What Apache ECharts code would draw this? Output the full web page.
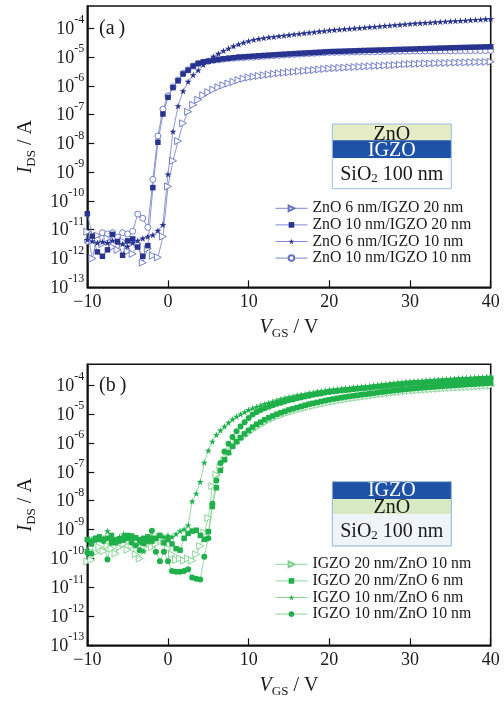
<!DOCTYPE html>
<html>
<head>
<meta charset="utf-8">
<script src="https://cdn.jsdelivr.net/npm/echarts@6.0.0/dist/echarts.min.js"></script>
<style>
html,body{margin:0;padding:0;background:#fff;}
#chart{width:504px;height:702px;}
</style>
</head>
<body>
<div id="chart"></div>
<script>
// Gate-voltage sweeps (V)
const vgsA = [-10, -9.375, -8.75, -8.125, -7.5, -6.875, -6.25, -5.625, -5, -4.375, -3.75, -3.125, -2.5, -1.875, -1.25, -0.625,
  0, 0.625, 1.25, 1.875, 2.5, 3.125, 3.75, 4.375, 5, 5.625, 6.25, 6.875, 7.5, 8.125, 8.75, 9.375,
  10, 10.625, 11.25, 11.875, 12.5, 13.125, 13.75, 14.375, 15, 15.625, 16.25, 16.875, 17.5, 18.125, 18.75, 19.375,
  20, 20.625, 21.25, 21.875, 22.5, 23.125, 23.75, 24.375, 25, 25.625, 26.25, 26.875, 27.5, 28.125, 28.75, 29.375,
  30, 30.625, 31.25, 31.875, 32.5, 33.125, 33.75, 34.375, 35, 35.625, 36.25, 36.875, 37.5, 38.125, 38.75, 39.375, 40];

const vgsB = [-10, -9.5, -9, -8.5, -8, -7.5, -7, -6.5, -6, -5.5, -5, -4.5, -4, -3.5, -3, -2.5, -2, -1.5, -1, -0.5,
  0, 0.5, 1, 1.5, 2, 2.5, 3, 3.5, 4, 4.5, 5, 5.5, 6, 6.5, 7, 7.5, 8, 8.5, 9, 9.5,
  10, 10.5, 11, 11.5, 12, 12.5, 13, 13.5, 14, 14.5, 15, 15.5, 16, 16.5, 17, 17.5, 18, 18.5, 19, 19.5,
  20, 20.5, 21, 21.5, 22, 22.5, 23, 23.5, 24, 24.5, 25, 25.5, 26, 26.5, 27, 27.5, 28, 28.5, 29, 29.5,
  30, 30.5, 31, 31.5, 32, 32.5, 33, 33.5, 34, 34.5, 35, 35.5, 36, 36.5, 37, 37.5, 38, 38.5, 39, 39.5, 40];

// (a) ZnO on IGZO: drain current I_DS (A)
const idsZnO6IGZO20 = [8.5e-12, 1.0e-12, 6.3e-12, 3.2e-12, 5.0e-12, 2.5e-12, 2.0e-12, 4.0e-12, 1.8e-12, 1.45e-12, 3.2e-12, 7.2e-13, 2.2e-12, 1.26e-12, 1.1e-12, 5.8e-12,
  3.2e-10, 2.5e-9, 1.2e-8, 5.0e-8, 1.26e-7, 2.2e-7, 3.3e-7, 4.7e-7, 6.0e-7, 7.4e-7, 8.9e-7, 1.05e-6, 1.2e-6, 1.38e-6, 1.58e-6, 1.78e-6,
  1.95e-6, 2.08e-6, 2.2e-6, 2.33e-6, 2.46e-6, 2.6e-6, 2.72e-6, 2.84e-6, 2.96e-6, 3.08e-6, 3.2e-6, 3.32e-6, 3.44e-6, 3.56e-6, 3.7e-6, 3.85e-6,
  4.0e-6, 4.1e-6, 4.2e-6, 4.3e-6, 4.4e-6, 4.5e-6, 4.6e-6, 4.7e-6, 4.8e-6, 4.9e-6, 5.0e-6, 5.1e-6, 5.2e-6, 5.3e-6, 5.45e-6, 5.6e-6,
  5.75e-6, 5.8e-6, 5.9e-6, 6.0e-6, 6.0e-6, 6.1e-6, 6.2e-6, 6.2e-6, 6.3e-6, 6.4e-6, 6.5e-6, 6.5e-6, 6.6e-6, 6.7e-6, 6.7e-6, 6.8e-6, 6.9e-6];

const idsZnO10IGZO20 = [3.6e-11, 6.0e-12, 1.7e-12, 1.2e-12, 2.0e-12, 6.9e-12, 3.9e-12, 1.3e-12, 4.1e-12, 4.8e-12, 2.5e-12, 1.2e-12, 2.8e-12, 2.9e-10, 1.1e-8, 1.05e-7,
  4.0e-7, 8.7e-7, 1.5e-6, 2.6e-6, 3.5e-6, 4.9e-6, 6.0e-6, 6.8e-6, 7.2e-6, 7.8e-6, 8.3e-6, 8.7e-6, 9.1e-6, 9.5e-6, 1.0e-5, 1.02e-5,
  1.05e-5, 1.08e-5, 1.11e-5, 1.14e-5, 1.17e-5, 1.2e-5, 1.23e-5, 1.26e-5, 1.29e-5, 1.32e-5, 1.35e-5, 1.38e-5, 1.41e-5, 1.44e-5, 1.47e-5, 1.51e-5,
  1.55e-5, 1.57e-5, 1.59e-5, 1.61e-5, 1.63e-5, 1.65e-5, 1.68e-5, 1.7e-5, 1.72e-5, 1.74e-5, 1.76e-5, 1.78e-5, 1.8e-5, 1.83e-5, 1.85e-5, 1.88e-5,
  1.9e-5, 1.92e-5, 1.95e-5, 1.97e-5, 2.0e-5, 2.02e-5, 2.05e-5, 2.07e-5, 2.1e-5, 2.12e-5, 2.15e-5, 2.17e-5, 2.2e-5, 2.22e-5, 2.24e-5, 2.27e-5, 2.29e-5];

const idsZnO6IGZO10 = [4.5e-12, 4.0e-12, 3.5e-12, 3.8e-12, 3.5e-12, 4.2e-12, 3.6e-12, 3.2e-12, 2.6e-12, 3.5e-12, 4.2e-12, 5.0e-12, 5.8e-12, 6.6e-12, 9.3e-12, 1.5e-11,
  8.5e-10, 2.6e-8, 2.0e-7, 6.6e-7, 1.4e-6, 2.4e-6, 3.5e-6, 5.4e-6, 7.6e-6, 1.05e-5, 1.32e-5, 1.66e-5, 2.0e-5, 2.4e-5, 2.8e-5, 3.2e-5,
  3.6e-5, 4.0e-5, 4.3e-5, 4.6e-5, 4.9e-5, 5.1e-5, 5.4e-5, 5.6e-5, 5.9e-5, 6.2e-5, 6.5e-5, 6.8e-5, 7.1e-5, 7.4e-5, 7.8e-5, 8.1e-5,
  8.5e-5, 8.8e-5, 9.1e-5, 9.4e-5, 9.7e-5, 1.0e-4, 1.03e-4, 1.07e-4, 1.1e-4, 1.14e-4, 1.18e-4, 1.22e-4, 1.26e-4, 1.3e-4, 1.34e-4, 1.39e-4,
  1.44e-4, 1.48e-4, 1.52e-4, 1.56e-4, 1.6e-4, 1.64e-4, 1.68e-4, 1.72e-4, 1.76e-4, 1.8e-4, 1.84e-4, 1.88e-4, 1.93e-4, 1.98e-4, 2.03e-4, 2.08e-4, 2.13e-4];

const idsZnO10IGZO10 = [4.0e-12, 5.0e-12, 4.5e-12, 7.9e-12, 7.1e-12, 7.9e-12, 5.6e-12, 7.9e-12, 7.1e-12, 8.9e-12, 3.5e-11, 2.5e-11, 1.2e-11, 5.6e-10, 1.8e-8, 1.55e-7,
  4.5e-7, 9.3e-7, 1.6e-6, 2.7e-6, 3.6e-6, 4.9e-6, 6.0e-6, 6.7e-6, 7.1e-6, 7.6e-6, 8.0e-6, 8.4e-6, 8.8e-6, 9.1e-6, 9.4e-6, 9.6e-6,
  9.8e-6, 1.0e-5, 1.03e-5, 1.06e-5, 1.09e-5, 1.12e-5, 1.15e-5, 1.18e-5, 1.21e-5, 1.24e-5, 1.27e-5, 1.3e-5, 1.33e-5, 1.36e-5, 1.39e-5, 1.42e-5,
  1.45e-5, 1.46e-5, 1.47e-5, 1.48e-5, 1.49e-5, 1.5e-5, 1.51e-5, 1.52e-5, 1.53e-5, 1.54e-5, 1.55e-5, 1.56e-5, 1.57e-5, 1.58e-5, 1.59e-5, 1.6e-5,
  1.61e-5, 1.62e-5, 1.62e-5, 1.63e-5, 1.63e-5, 1.64e-5, 1.64e-5, 1.65e-5, 1.65e-5, 1.66e-5, 1.66e-5, 1.67e-5, 1.67e-5, 1.68e-5, 1.68e-5, 1.69e-5, 1.69e-5];

// (b) IGZO on ZnO: drain current I_DS (A)
const idsIGZO20ZnO10 = [7.9e-11, 8.9e-11, 1.6e-10, 2.5e-10, 1.8e-10, 2.8e-10, 2.2e-10, 1.5e-10, 2.5e-10, 3.2e-10, 2.0e-10, 2.8e-10, 1.4e-10, 1.0e-10, 2.5e-10, 3.5e-10, 2.5e-10, 3.2e-10, 5.6e-10, 4.0e-10,
  2.2e-10, 1.4e-10, 8.9e-11, 1.0e-10, 8.5e-11, 1.0e-10, 8.5e-11, 1.4e-10, 2.7e-10, 7.9e-10, 2.5e-9, 3.2e-8, 7.9e-8, 1.41e-7, 2.5e-7, 4.2e-7, 7.1e-7, 1.0e-6, 1.35e-6, 1.74e-6,
  2.2e-6, 2.75e-6, 3.4e-6, 4.2e-6, 5.0e-6, 5.9e-6, 6.9e-6, 7.9e-6, 8.9e-6, 1.0e-5, 1.12e-5, 1.23e-5, 1.35e-5, 1.48e-5, 1.62e-5, 1.74e-5, 1.9e-5, 2.04e-5, 2.19e-5, 2.34e-5,
  2.5e-5, 2.67e-5, 2.84e-5, 3.0e-5, 3.18e-5, 3.35e-5, 3.52e-5, 3.69e-5, 3.86e-5, 4.03e-5, 4.2e-5, 4.41e-5, 4.62e-5, 4.83e-5, 5.04e-5, 5.25e-5, 5.46e-5, 5.67e-5, 5.88e-5, 6.09e-5,
  6.3e-5, 6.46e-5, 6.62e-5, 6.78e-5, 6.94e-5, 7.1e-5, 7.26e-5, 7.42e-5, 7.58e-5, 7.74e-5, 7.9e-5, 8.06e-5, 8.22e-5, 8.38e-5, 8.54e-5, 8.7e-5, 8.86e-5, 9.02e-5, 9.18e-5, 9.34e-5, 9.5e-5];

const idsIGZO20ZnO6 = [4.5e-10, 3.2e-10, 5.0e-10, 5.6e-10, 4.5e-10, 5.0e-10, 6.3e-10, 3.5e-10, 4.5e-10, 5.0e-10, 6.3e-10, 6.0e-10, 5.2e-10, 4.5e-10, 5.0e-10, 5.6e-10, 4.0e-10, 5.0e-10, 6.3e-10, 3.5e-10,
  4.5e-10, 3.2e-10, 2.2e-10, 1.95e-10, 5.0e-10, 7.4e-10, 8.9e-10, 9.5e-10, 6.3e-10, 4.6e-10, 8.5e-10, 6.3e-9, 2.8e-8, 1.12e-7, 2.6e-7, 4.6e-7, 7.6e-7, 1.1e-6, 1.5e-6, 2.05e-6,
  2.7e-6, 3.5e-6, 4.4e-6, 5.2e-6, 6.3e-6, 7.4e-6, 8.5e-6, 9.8e-6, 1.1e-5, 1.23e-5, 1.38e-5, 1.51e-5, 1.66e-5, 1.82e-5, 2.0e-5, 2.19e-5, 2.34e-5, 2.5e-5, 2.7e-5, 2.9e-5,
  3.1e-5, 3.29e-5, 3.48e-5, 3.67e-5, 3.86e-5, 4.05e-5, 4.24e-5, 4.43e-5, 4.62e-5, 4.81e-5, 5.0e-5, 5.24e-5, 5.48e-5, 5.72e-5, 5.96e-5, 6.2e-5, 6.44e-5, 6.68e-5, 6.92e-5, 7.16e-5,
  7.4e-5, 7.61e-5, 7.82e-5, 8.03e-5, 8.24e-5, 8.45e-5, 8.66e-5, 8.87e-5, 9.08e-5, 9.29e-5, 9.5e-5, 9.72e-5, 9.94e-5, 1.016e-4, 1.038e-4, 1.06e-4, 1.082e-4, 1.104e-4, 1.126e-4, 1.148e-4, 1.17e-4];

const idsIGZO10ZnO6 = [2.0e-10, 4.5e-10, 5.0e-10, 5.6e-10, 5.0e-10, 8.9e-10, 5.0e-10, 4.0e-10, 5.6e-10, 7.1e-10, 5.0e-10, 4.5e-10, 5.0e-10, 3.5e-10, 1.8e-10, 4.5e-10, 5.6e-10, 5.0e-10, 6.3e-10, 5.6e-10,
  6.3e-10, 5.6e-10, 7.1e-10, 8.9e-10, 1.02e-9, 1.41e-9, 9.5e-9, 1.78e-8, 4.5e-8, 2.1e-7, 5.4e-7, 1.12e-6, 1.9e-6, 2.7e-6, 3.7e-6, 5.0e-6, 6.5e-6, 8.1e-6, 9.8e-6, 1.17e-5,
  1.38e-5, 1.58e-5, 1.78e-5, 2.0e-5, 2.24e-5, 2.45e-5, 2.7e-5, 2.95e-5, 3.24e-5, 3.55e-5, 3.8e-5, 4.07e-5, 4.37e-5, 4.68e-5, 4.9e-5, 5.25e-5, 5.5e-5, 5.9e-5, 6.2e-5, 6.5e-5,
  6.8e-5, 7.05e-5, 7.3e-5, 7.55e-5, 7.8e-5, 8.05e-5, 8.3e-5, 8.55e-5, 8.8e-5, 9.05e-5, 9.3e-5, 9.7e-5, 1.01e-4, 1.05e-4, 1.09e-4, 1.13e-4, 1.17e-4, 1.21e-4, 1.25e-4, 1.28e-4,
  1.32e-4, 1.35e-4, 1.38e-4, 1.41e-4, 1.44e-4, 1.48e-4, 1.51e-4, 1.54e-4, 1.57e-4, 1.6e-4, 1.63e-4, 1.66e-4, 1.7e-4, 1.73e-4, 1.76e-4, 1.79e-4, 1.82e-4, 1.85e-4, 1.88e-4, 1.92e-4, 1.95e-4];

const idsIGZO10ZnO10 = [1.6e-10, 1.5e-10, 4.4e-10, 4.6e-10, 4.0e-10, 9.3e-11, 3.5e-10, 4.4e-10, 4.0e-10, 4.4e-10, 5.0e-10, 3.5e-10, 2.8e-10, 1.95e-10, 3.3e-10, 4.0e-10, 9.1e-10, 1.7e-10, 8.1e-11, 1.7e-10,
  8.1e-11, 3.7e-11, 3.5e-11, 3.5e-11, 3.7e-11, 4.3e-11, 2.2e-11, 2.0e-11, 1.9e-11, 1.15e-10, 5.0e-10, 7.9e-9, 5.0e-8, 2.0e-7, 5.0e-7, 9.3e-7, 1.6e-6, 2.5e-6, 3.7e-6, 5.2e-6,
  7.2e-6, 9.5e-6, 1.17e-5, 1.38e-5, 1.58e-5, 1.78e-5, 2.0e-5, 2.24e-5, 2.45e-5, 2.7e-5, 2.95e-5, 3.16e-5, 3.47e-5, 3.7e-5, 4.0e-5, 4.27e-5, 4.57e-5, 4.9e-5, 5.13e-5, 5.5e-5,
  5.75e-5, 6.0e-5, 6.2e-5, 6.5e-5, 6.6e-5, 6.9e-5, 7.1e-5, 7.4e-5, 7.6e-5, 7.9e-5, 8.1e-5, 8.5e-5, 8.7e-5, 9.1e-5, 9.3e-5, 9.8e-5, 1.0e-4, 1.05e-4, 1.07e-4, 1.12e-4,
  1.15e-4, 1.17e-4, 1.2e-4, 1.22e-4, 1.25e-4, 1.28e-4, 1.3e-4, 1.33e-4, 1.36e-4, 1.38e-4, 1.41e-4, 1.44e-4, 1.47e-4, 1.5e-4, 1.53e-4, 1.56e-4, 1.59e-4, 1.62e-4, 1.65e-4, 1.69e-4, 1.72e-4];

// Legend labels
const namesA = ['ZnO 6 nm/IGZO 20 nm', 'ZnO 10 nm/IGZO 20 nm', 'ZnO 6 nm/IGZO 10 nm', 'ZnO 10 nm/IGZO 10 nm'];
const namesB = ['IGZO 20 nm/ZnO 10 nm', 'IGZO 20 nm/ZnO 6 nm', 'IGZO 10 nm/ZnO 6 nm', 'IGZO 10 nm/ZnO 10 nm'];

// Axis ranges
const vgsRange = [-10, 40];
const idsRangeA = [1e-13, 5.96e-4];
const idsRangeB = [1e-13, 5.2e-4];

const SERIF = '"Liberation Serif", "Times New Roman", Times, serif';
const STAR = 'path://M50 0L61.2 34.5H97.6L68.2 55.9L79.4 90.5L50 69.1L20.6 90.5L31.8 55.9L2.4 34.5H38.8Z';

const BLUE = '#27338e', BLUE_OPEN = '#6472c6', BLUE_LINE = '#6f7cc9';
const GREEN = '#1fb04a', GREEN_OPEN = '#7ccf8b', GREEN_LINE = '#7fd08f';

function pairs(v, ids) { return v.map((x, i) => [x, ids[i]]); }

function curve(name, idx, v, ids, marker) {
  return Object.assign({
    name: name,
    type: 'line',
    xAxisIndex: idx,
    yAxisIndex: idx,
    data: pairs(v, ids),
    showSymbol: true,
    showAllSymbol: true,
    animation: false,
    lineStyle: { width: 0.8, color: marker.line },
    emphasis: { disabled: true }
  }, marker.style);
}

function filled(symbol, color, line, size, rotate) {
  return { line: line, style: { symbol: symbol, symbolSize: size, symbolRotate: rotate || 0, symbolKeepAspect: true,
    itemStyle: { color: color, borderWidth: 0 } } };
}
function open(symbol, color, line, size, rotate) {
  return { line: line, style: { symbol: symbol, symbolSize: size, symbolRotate: rotate || 0,
    itemStyle: { color: '#fff', borderColor: color, borderWidth: 0.9 } } };
}

const tickLabelRich = {
  b: { fontFamily: SERIF, fontSize: 18, color: '#1a1a1a', lineHeight: 20, verticalAlign: 'bottom' },
  s: { fontFamily: SERIF, fontSize: 12, color: '#1a1a1a', lineHeight: 12, verticalAlign: 'bottom', padding: [0, 0, 12, 0] }
};

function powLabel(v) {
  const e = Math.round(Math.log10(v));
  return '{b|10}{s|-' + (-e) + '}';
}

const nameRich = {
  i: { fontFamily: SERIF, fontSize: 20, fontStyle: 'italic', color: '#1a1a1a', lineHeight: 22, verticalAlign: 'top' },
  s: { fontFamily: SERIF, fontSize: 13, color: '#1a1a1a', lineHeight: 14, verticalAlign: 'top', padding: [10, 0, 0, 0] },
  t: { fontFamily: SERIF, fontSize: 20, color: '#1a1a1a', lineHeight: 22, verticalAlign: 'top' }
};

function xAxisFor(i) {
  return {
    type: 'value', gridIndex: i, min: vgsRange[0], max: vgsRange[1], interval: 10,
    axisLine: { show: true, onZero: false, lineStyle: { color: '#111', width: 1.6 } },
    axisTick: { show: true, inside: true, length: 7, lineStyle: { color: '#111', width: 1.2 } },
    axisLabel: { margin: 6, fontFamily: SERIF, fontSize: 18, color: '#1a1a1a',
      formatter: v => (v < 0 ? '\u2212' + (-v) : String(v)) },
    splitLine: { show: false },
    name: '{i|V}{s|GS}{t| / V}', nameLocation: 'middle', nameGap: 30,
    nameTextStyle: { rich: nameRich }
  };
}

function yAxisFor(i, range) {
  return {
    type: 'log', logBase: 10, gridIndex: i, min: range[0], max: range[1],
    axisLine: { show: true, onZero: false, lineStyle: { color: '#111', width: 1.6 } },
    axisTick: { show: true, inside: true, length: 7, lineStyle: { color: '#111', width: 1.2 } },
    axisLabel: { margin: 3, showMaxLabel: false, formatter: powLabel, rich: tickLabelRich },
    splitLine: { show: false },
    minorTick: { show: false },
    name: '{i|I}{s|DS}{t| / A}', nameLocation: 'middle', nameRotate: 90, nameGap: 50,
    nameTextStyle: { rich: nameRich }
  };
}

function stack(x, y, layers, border) {
  const children = [];
  let top = 0;
  layers.forEach(l => {
    children.push({ type: 'rect', shape: { x: 0, y: top, width: 119, height: l.h }, style: { fill: l.fill } });
    children.push({ type: 'text', x: 59.5, y: top + l.ty, style: { text: l.text, rich: l.rich, fill: l.color,
      font: '20px ' + SERIF, align: 'center', verticalAlign: 'middle', textAlign: 'center', textVerticalAlign: 'middle' } });
    top += l.h;
  });
  children.push({ type: 'rect', shape: { x: 0, y: 0, width: 119, height: top }, style: { fill: 'none', stroke: border, lineWidth: 1 } });
  return { type: 'group', x: x, y: y, silent: true, children: children };
}

const sio2Rich = {
  a: { fontFamily: SERIF, fontSize: 20, color: '#1a1a1a' },
  d: { fontFamily: SERIF, fontSize: 13, color: '#1a1a1a', verticalAlign: 'bottom', padding: [8, 0, 0, 0] }
};

function legendFor(names, top) {
  return { data: names, orient: 'vertical', left: 270, top: top, itemWidth: 32, itemHeight: 7, itemGap: 0.6,
    selectedMode: false, lineStyle: { width: 0.9 },
    textStyle: { fontFamily: SERIF, fontSize: 15.8, color: '#1a1a1a', lineHeight: 16 } };
}

const option = {
  animation: false,
  backgroundColor: '#fff',
  grid: [
    { left: 87.3, top: 6, width: 403.4, height: 281.3, show: true, borderColor: '#111', borderWidth: 1.6, backgroundColor: 'transparent' },
    { left: 87.3, top: 364.3, width: 403.4, height: 281, show: true, borderColor: '#111', borderWidth: 1.6, backgroundColor: 'transparent' }
  ],
  xAxis: [xAxisFor(0), xAxisFor(1)],
  yAxis: [yAxisFor(0, idsRangeA), yAxisFor(1, idsRangeB)],
  legend: [legendFor(namesA, 195.3), legendFor(namesB, 551.3)],
  series: [
    curve(namesA[3], 0, vgsA, idsZnO10IGZO10, open('circle', BLUE_OPEN, BLUE_LINE, 6)),
    curve(namesA[0], 0, vgsA, idsZnO6IGZO20, open('triangle', BLUE_OPEN, BLUE_LINE, 7, -90)),
    curve(namesA[2], 0, vgsA, idsZnO6IGZO10, filled(STAR, BLUE, BLUE_LINE, 7)),
    curve(namesA[1], 0, vgsA, idsZnO10IGZO20, filled('rect', BLUE, BLUE_LINE, 5.5)),

    curve(namesB[0], 1, vgsB, idsIGZO20ZnO10, open('triangle', GREEN_OPEN, GREEN_LINE, 7, -90)),
    curve(namesB[1], 1, vgsB, idsIGZO20ZnO6, filled('rect', GREEN, GREEN_LINE, 5.5)),
    curve(namesB[2], 1, vgsB, idsIGZO10ZnO6, filled(STAR, GREEN, GREEN_LINE, 7)),
    curve(namesB[3], 1, vgsB, idsIGZO10ZnO10, filled('circle', GREEN, GREEN_LINE, 6))
  ],
  graphic: [
    { type: 'text', x: 99, y: 29, silent: true, style: { text: '(a\u2009)', font: '20px ' + SERIF, fill: '#1a1a1a',
      align: 'left', verticalAlign: 'middle', textAlign: 'left', textVerticalAlign: 'middle' } },
    { type: 'text', x: 99, y: 386, silent: true, style: { text: '(b\u2009)', font: '20px ' + SERIF, fill: '#1a1a1a',
      align: 'left', verticalAlign: 'middle', textAlign: 'left', textVerticalAlign: 'middle' } },
    stack(332.3, 124, [
      { h: 16.3, fill: '#e6ecc6', text: 'ZnO', color: '#1a1a1a', ty: 11 },
      { h: 18, fill: '#1d52a6', text: 'IGZO', color: '#ffffff', ty: 10 },
      { h: 30.4, fill: '#ffffff', text: '{a|SiO}{d|2}{a| 100 nm}', rich: sio2Rich, color: '#1a1a1a', ty: 16 }
    ], '#9dbde0'),
    stack(332.3, 481.7, [
      { h: 17.3, fill: '#1d52a6', text: 'IGZO', color: '#ffffff', ty: 9.3 },
      { h: 15.3, fill: '#d8eac3', text: 'ZnO', color: '#1a1a1a', ty: 8.5 },
      { h: 31.7, fill: '#eef4f7', text: '{a|SiO}{d|2}{a| 100 nm}', rich: sio2Rich, color: '#1a1a1a', ty: 17 }
    ], '#8fb3d6')
  ]
};

const chart = echarts.init(document.getElementById('chart'), null, { renderer: 'canvas' });
chart.setOption(option);
</script>
</body>
</html>
